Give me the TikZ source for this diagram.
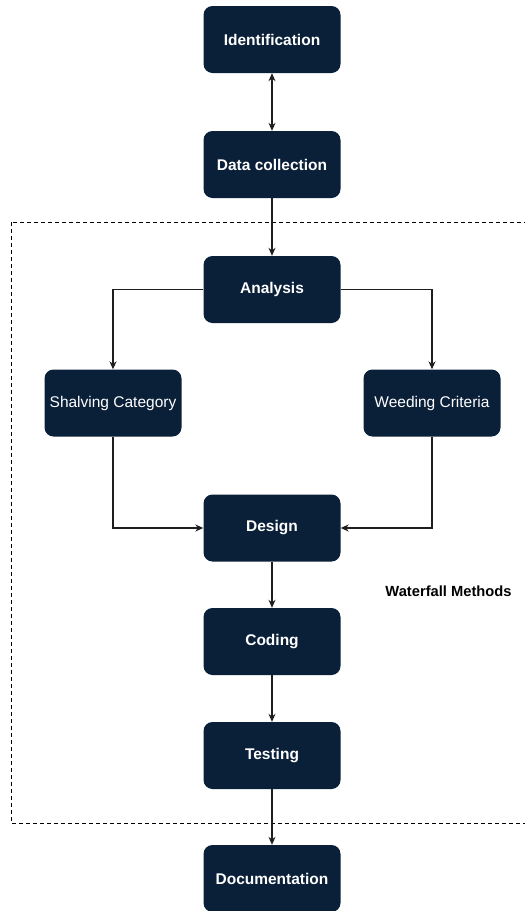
\documentclass[tikz,border=0pt]{standalone}
\usepackage{fontspec}
\setmainfont{Liberation Sans}
\usetikzlibrary{arrows.meta}
\definecolor{boxnavy}{RGB}{10,31,56}
\definecolor{linegray}{RGB}{30,30,30}
\begin{document}
\begin{tikzpicture}[x=1pt,y=-1pt,
  stepbox/.style={draw=none,fill=boxnavy,rounded corners=9pt,minimum width=137pt,minimum height=67pt,text=white,font=\fontsize{15.5}{18}\selectfont\bfseries,inner sep=0pt},
  subbox/.style={stepbox,font=\fontsize{15.5}{18}\selectfont},
  conn/.style={draw=linegray,line width=1.1pt,-{Stealth[length=8pt,width=7pt]}}]
\useasboundingbox (0,0) rectangle (525,911);
\begin{scope}
\clip (0,0) rectangle (525,911);
\draw[line width=1pt,dash pattern=on 4pt off 3pt,black] (11,222) rectangle (540,823);
\end{scope}
\node[stepbox] (ident) at (272,39.5) {Identification};
\node[stepbox] (data) at (272,164.5) {Data collection};
\node[stepbox] (anal) at (272,289.5) {Analysis};
\node[subbox] (shal) at (113,403) {Shalving Category};
\node[subbox] (weed) at (432,403) {Weeding Criteria};
\node[stepbox] (design) at (272,528) {Design};
\node[stepbox] (coding) at (272,641.5) {Coding};
\node[stepbox] (testing) at (272,755.5) {Testing};
\node[stepbox] (doc) at (272,878.5) {Documentation};
\node[font=\fontsize{14.7}{17}\selectfont\bfseries,text=black] (wf) at (448.5,591) {Waterfall Methods};
\draw[conn,{Stealth[length=8pt,width=7pt]}-{Stealth[length=8pt,width=7pt]}] (ident) -- (data);
\draw[conn] (data) -- (anal);
\draw[conn] (anal.west) -| (shal.north);
\draw[conn] (anal.east) -| (weed.north);
\draw[conn] (shal.south) |- (design.west);
\draw[conn] (weed.south) |- (design.east);
\draw[conn] (design) -- (coding);
\draw[conn] (coding) -- (testing);
\draw[conn] (testing) -- (doc);
\end{tikzpicture}
\end{document}
